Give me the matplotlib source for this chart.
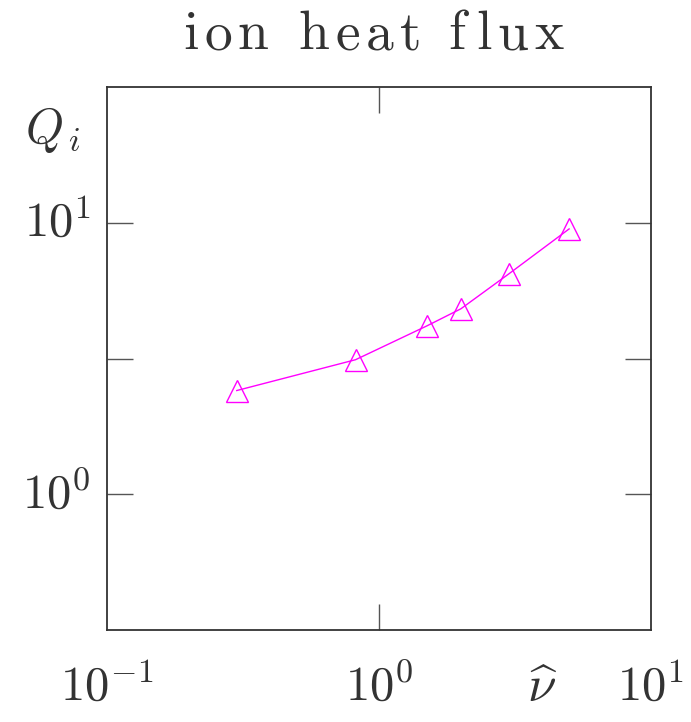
import matplotlib
matplotlib.use("Agg")
import matplotlib.pyplot as plt
from matplotlib.ticker import FixedLocator, NullLocator

plt.rcParams['mathtext.fontset'] = 'cm'

# collision frequency vs ion heat flux
nu_hat = [0.30, 0.82, 1.5, 2.0, 3.0, 5.0]
q_ion = [2.41, 3.13, 4.17, 4.82, 6.48, 9.49]

x_tick_labels = [r'$10^{-1}$', r'$10^{0}$', r'$10^{1}$']
y_tick_labels = [r'$10^{0}$', r'$10^{1}$']

ink = '#333333'

fig = plt.figure(figsize=(6.91, 7.22), dpi=100)
ax = fig.add_axes([0.1548, 0.1274, 0.7873, 0.7521])

ax.plot(nu_hat, q_ion, '-', color='#ff00ff', lw=1.0,
        marker='^', ms=16, mfc='none', mec='#ff00ff', mew=1.0)

ax.set_xscale('log')
ax.set_yscale('log')
ax.set_xlim(10**-1, 10**1)
ax.set_ylim(10**-0.5, 10**1.5)

for s in ax.spines.values():
    s.set_color(ink)
    s.set_linewidth(1.3)

# tick marks: inward, labels drawn separately
ax.xaxis.set_major_locator(FixedLocator([1.0]))
ax.xaxis.set_minor_locator(NullLocator())
ax.yaxis.set_major_locator(FixedLocator([1.0, 10**0.5, 10.0]))
ax.yaxis.set_minor_locator(NullLocator())
ax.tick_params(which='major', direction='in', length=19, width=1.0,
               color='#555555', top=True, right=True,
               labelbottom=False, labelleft=False)

for xv, lab in zip([0.1, 1.0, 10.0], x_tick_labels):
    ax.text(xv, -0.06, lab, transform=ax.get_xaxis_transform(),
            ha='center', va='top', fontsize=35, color=ink)
for yv, lab in zip([1.0, 10.0], y_tick_labels):
    ax.text(-0.03, yv, lab, transform=ax.get_yaxis_transform(),
            ha='right', va='center', fontsize=35, color=ink)

ax.text(0.80, -0.107, r'$\widehat{\nu}$', transform=ax.transAxes,
        ha='center', va='center', fontsize=37, color=ink)
ax.text(-0.10, 0.92, r'$Q_{\,i}$', transform=ax.transAxes,
        ha='center', va='center', fontsize=35, color=ink)

# title with wide letter spacing
title = 'ion heat flux'
renderer = fig.canvas.get_renderer()
W, H = fig.bbox.width, fig.bbox.height
px = 183.0
tracking = 5.0
space_w = 24.0
for ch in title:
    if ch == ' ':
        px += space_w
        continue
    t = fig.text(px / W, 1 - 49.0 / H, r'$\mathrm{%s}$' % ch,
                 ha='left', va='baseline', fontsize=40, color=ink)
    px += t.get_window_extent(renderer).width + tracking

fig.savefig('out.png', dpi=100)
